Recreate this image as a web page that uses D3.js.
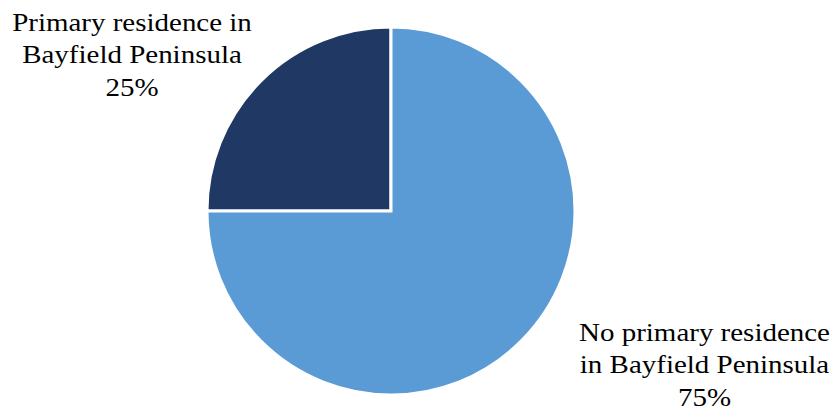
<!DOCTYPE html>
<html>
<head>
<meta charset="utf-8">
<script src="https://cdn.jsdelivr.net/npm/d3@7"></script>
<style>
  html, body { margin: 0; padding: 0; background: #fff; }
  svg { display: block; }
</style>
</head>
<body>
<svg id="chart" width="837" height="412"></svg>
<script>
// Share of respondents by primary residence
const categories = ["Primary residence in Bayfield Peninsula", "No primary residence in Bayfield Peninsula"];
const shares = [25, 75];
const colors = ["#203864", "#5B9BD5"];
const labelLines = [
  ["Primary residence in", "Bayfield Peninsula", "25%"],
  ["No primary residence", "in Bayfield Peninsula", "75%"]
];

const svg = d3.select("#chart");
const cx = 391, cy = 211, r = 184;

const pie = d3.pie().sort(null).value(d => d.value)
  .startAngle(-Math.PI / 2).endAngle(1.5 * Math.PI);
const data = categories.map((c, i) => ({ name: c, value: shares[i], color: colors[i], lines: labelLines[i] }));
const arcs = pie(data);
const arc = d3.arc().innerRadius(0).outerRadius(r);

const g = svg.append("g").attr("transform", `translate(${cx},${cy})`);
g.selectAll("path").data(arcs).join("path")
  .attr("d", arc)
  .attr("fill", d => d.data.color)
  .attr("stroke", "#fff")
  .attr("stroke-width", 3)
  .attr("stroke-linejoin", "miter");

// Labels placed outside the slices (slightly widened serif type)
const labelPos = [[132, 30.5], [704.5, 340.5]];
const lineH = 33;
arcs.forEach((a, i) => {
  const t = svg.append("text")
    .attr("transform", `translate(${labelPos[i][0]},${labelPos[i][1]}) scale(1.115,1)`)
    .attr("text-anchor", "middle")
    .style("font-family", '"Liberation Serif"')
    .style("font-size", "26px")
    .style("fill", "#000");
  a.data.lines.forEach((ln, j) => {
    t.append("tspan")
      .attr("x", 0)
      .attr("y", j * lineH)
      .text(ln);
  });
});
</script>
</body>
</html>
